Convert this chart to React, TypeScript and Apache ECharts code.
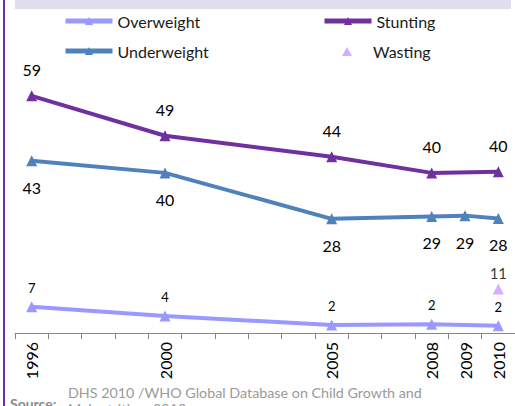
import React, { useEffect, useRef } from "react";
import * as echarts from "echarts";

const years = ["1996", "1997", "1998", "1999", "2000", "2001", "2002", "2003", "2004", "2005", "2006", "2007", "2008", "2009", "2010"];
const shownYears = ["1996", "2000", "2005", "2008", "2009", "2010"];

const stuntingYears = ["1996", "2000", "2005", "2008", "2010"];
const stuntingValues = [58.8, 48.9, 43.7, 39.7, 40.0];

const underweightYears = ["1996", "2000", "2005", "2008", "2009", "2010"];
const underweightValues = [42.7, 39.7, 28.3, 28.9, 29.1, 28.4];

const overweightYears = ["1996", "2000", "2005", "2008", "2010"];
const overweightValues = [6.5, 4.2, 2.0, 2.2, 1.8];

const wastingYears = ["2010"];
const wastingValues = [10.9];

const FONT = "Lato, 'Open Sans', sans-serif";

function toSeries(ys: string[], vs: number[]) {
  return years.map((y) => {
    const i = ys.indexOf(y);
    return i >= 0 ? vs[i] : null;
  });
}

export default function App() {
  const ref = useRef<HTMLDivElement>(null);
  useEffect(() => {
    if (!ref.current) return;
    const chart = echarts.init(ref.current, null, { renderer: "svg" });
    const fmt = (p: any) => String(Math.round(p.value));
    const lineCommon = {
      type: "line",
      connectNulls: true,
      symbol: "triangle",
      symbolSize: 11,
      lineStyle: { width: 4 },
    };
    const legendCommon = {
      top: 8,
      orient: "vertical",
      itemWidth: 47,
      itemHeight: 10,
      itemGap: 14,
      lineStyle: { width: 5 },
      textStyle: { fontFamily: FONT, fontSize: 16, color: "#1a1a1a" },
    };
    chart.setOption({
      animation: false,
      backgroundColor: "#ffffff",
      textStyle: { fontFamily: FONT },
      grid: { left: 15, top: 91, width: 508, height: 242 },
      legend: [
        { ...legendCommon, left: 58, data: ["Overweight", "Underweight"] },
        { ...legendCommon, left: 317, data: ["Stunting"] },
        {
          ...legendCommon,
          top: 38.5,
          left: 337,
          itemWidth: 10,
          itemHeight: 9,
          data: ["Wasting"],
          textStyle: { fontFamily: FONT, fontSize: 16, color: "#1a1a1a", padding: [0, 0, 0, 16] },
        },
      ],
      xAxis: {
        type: "category",
        data: years,
        boundaryGap: true,
        axisLine: { lineStyle: { color: "#868686", width: 1 } },
        axisTick: { show: true, interval: 0, length: 6, lineStyle: { color: "#868686" } },
        axisLabel: {
          interval: (_i: number, v: string) => shownYears.includes(v),
          rotate: 90,
          fontSize: 16,
          color: "#000",
          fontFamily: FONT,
          margin: 9,
        },
        splitLine: { show: false },
      },
      yAxis: {
        type: "value",
        min: 0,
        max: 60,
        show: false,
        splitLine: { show: false },
      },
      series: [
        {
          ...lineCommon,
          name: "Overweight",
          color: "#9999FF",
          data: toSeries(overweightYears, overweightValues),
          label: { show: true, position: "top", distance: 7, fontSize: 13, color: "#000", fontFamily: FONT, formatter: fmt },
        },
        {
          ...lineCommon,
          name: "Stunting",
          color: "#7030A0",
          data: toSeries(stuntingYears, stuntingValues),
          label: { show: true, position: "top", distance: 13, fontSize: 16, color: "#000", fontFamily: FONT, formatter: fmt },
        },
        {
          ...lineCommon,
          name: "Underweight",
          color: "#4F81BD",
          data: toSeries(underweightYears, underweightValues),
          label: { show: true, position: "bottom", distance: 13, fontSize: 16, color: "#000", fontFamily: FONT, formatter: fmt },
        },
        {
          type: "scatter",
          name: "Wasting",
          color: "#CC99FF",
          symbol: "triangle",
          symbolSize: 11,
          data: toSeries(wastingYears, wastingValues),
          label: { show: true, position: "top", distance: 3, fontSize: 15, color: "#000", fontFamily: FONT, formatter: fmt },
        },
      ],
      graphic: [
        { type: "rect", shape: { x: 15, y: 0, width: 496, height: 9 }, style: { fill: "#E1DDEB" }, silent: true },
        { type: "rect", shape: { x: 3, y: 0, width: 2, height: 406 }, style: { fill: "#7030A0" }, silent: true },
        {
          type: "text",
          x: 68,
          y: 385,
          style: { text: "DHS 2010 /WHO Global Database on Child Growth and", fill: "#9a9a9a", fontSize: 14.3, fontFamily: FONT },
          silent: true,
        },
        {
          type: "text",
          x: 68,
          y: 401,
          style: { text: "Malnutrition, 2012", fill: "#9a9a9a", fontSize: 14.3, fontFamily: FONT },
          silent: true,
        },
        {
          type: "text",
          x: 10,
          y: 396,
          style: { text: "Source:", fill: "#8a8a8a", fontSize: 14, fontWeight: "bold", fontFamily: FONT },
          silent: true,
        },
      ],
    });
    return () => chart.dispose();
  }, []);
  return <div ref={ref} style={{ position: "fixed", left: 0, top: 0, width: 515, height: 406 }} />;
}
